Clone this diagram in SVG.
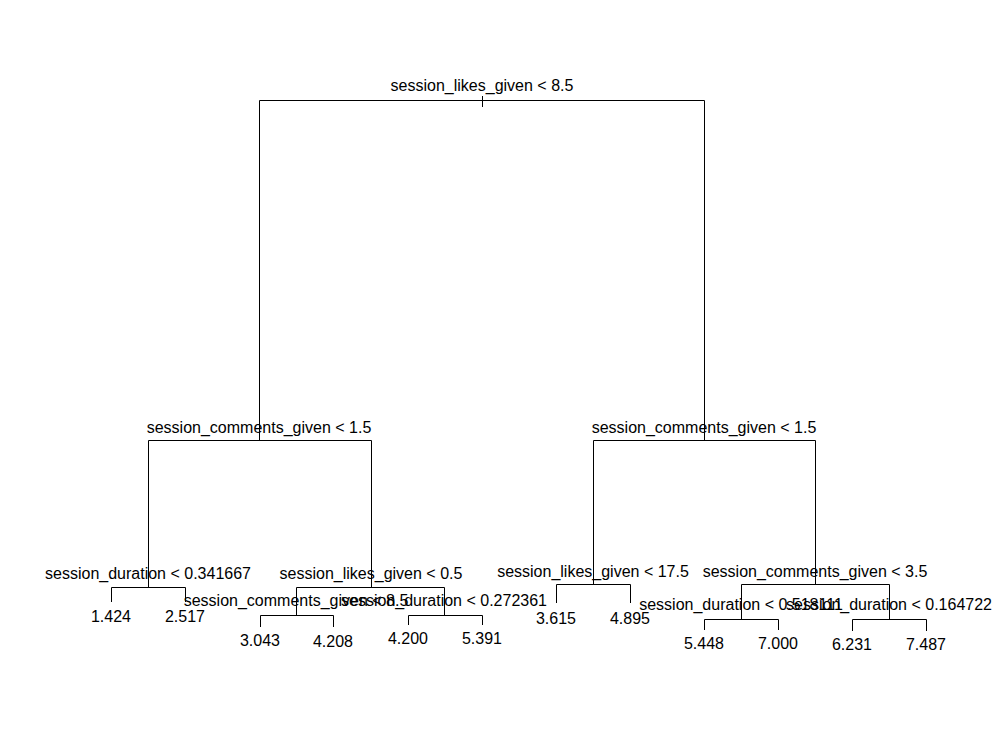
<svg xmlns="http://www.w3.org/2000/svg" width="1000" height="750" viewBox="0 0 1000 750">
<style>
.e{stroke:#000;stroke-width:1;fill:none}
.t{font-family:"Liberation Sans",Arial,sans-serif;font-size:16px;fill:#000;text-anchor:middle}
</style>
<rect width="1000" height="750" fill="#fff"/>
<g id="connectors">
<path class="e" d="M259.5 100.5H704.5M482.5 96V107"/>
<path class="e" d="M259.5 100.5V440.5M148.5 440.5H371.5"/>
<path class="e" d="M704.5 100.5V440.5M593.5 440.5H815.5"/>
<path class="e" d="M148.5 440.5V587.5M111.5 587.5H185.5M111.5 587.5V602M185.5 587.5V602"/>
<path class="e" d="M371.5 440.5V587.5M296.5 587.5H444.5"/>
<path class="e" d="M296.5 587.5V615.5M260.5 615.5H333.5M260.5 615.5V627M333.5 615.5V627"/>
<path class="e" d="M444.5 587.5V615.5M408.5 615.5H482.5M408.5 615.5V625M482.5 615.5V625"/>
<path class="e" d="M593.5 440.5V584.5M556.5 584.5H630.5M556.5 584.5V603M630.5 584.5V603"/>
<path class="e" d="M815.5 440.5V584.5M741.5 584.5H889.5"/>
<path class="e" d="M741.5 584.5V619.5M704.5 619.5H778.5M704.5 619.5V630M778.5 619.5V630"/>
<path class="e" d="M889.5 584.5V619.5M852.5 619.5H926.5M852.5 619.5V631M926.5 619.5V631"/>
</g>
<g id="n_root"><text class="t" x="482" y="91">session_likes_given &lt; 8.5</text></g>
<g id="n_L"><text class="t" x="259" y="433">session_comments_given &lt; 1.5</text></g>
<g id="n_R"><text class="t" x="704" y="433">session_comments_given &lt; 1.5</text></g>
<g id="n_LL"><text class="t" x="148" y="579">session_duration &lt; 0.341667</text></g>
<g id="n_LR"><text class="t" x="371" y="579">session_likes_given &lt; 0.5</text></g>
<g id="n_LRL"><text class="t" x="296" y="606">session_comments_given &lt; 8.5</text></g>
<g id="n_LRR"><text class="t" x="444" y="606">session_duration &lt; 0.272361</text></g>
<g id="n_RL"><text class="t" x="593" y="577">session_likes_given &lt; 17.5</text></g>
<g id="n_RR"><text class="t" x="815" y="577">session_comments_given &lt; 3.5</text></g>
<g id="n_RRL"><text class="t" x="741" y="610">session_duration &lt; 0.518111</text></g>
<g id="n_RRR"><text class="t" x="889" y="610">session_duration &lt; 0.164722</text></g>
<g id="leaf1"><text class="t" x="111" y="622">1.424</text></g>
<g id="leaf2"><text class="t" x="185" y="622">2.517</text></g>
<g id="leaf3"><text class="t" x="260" y="646">3.043</text></g>
<g id="leaf4"><text class="t" x="333" y="647">4.208</text></g>
<g id="leaf5"><text class="t" x="408" y="644">4.200</text></g>
<g id="leaf6"><text class="t" x="482" y="644">5.391</text></g>
<g id="leaf7"><text class="t" x="556" y="624">3.615</text></g>
<g id="leaf8"><text class="t" x="630" y="624">4.895</text></g>
<g id="leaf9"><text class="t" x="704" y="649">5.448</text></g>
<g id="leaf10"><text class="t" x="778" y="649">7.000</text></g>
<g id="leaf11"><text class="t" x="852" y="650">6.231</text></g>
<g id="leaf12"><text class="t" x="926" y="650">7.487</text></g>
</svg>
